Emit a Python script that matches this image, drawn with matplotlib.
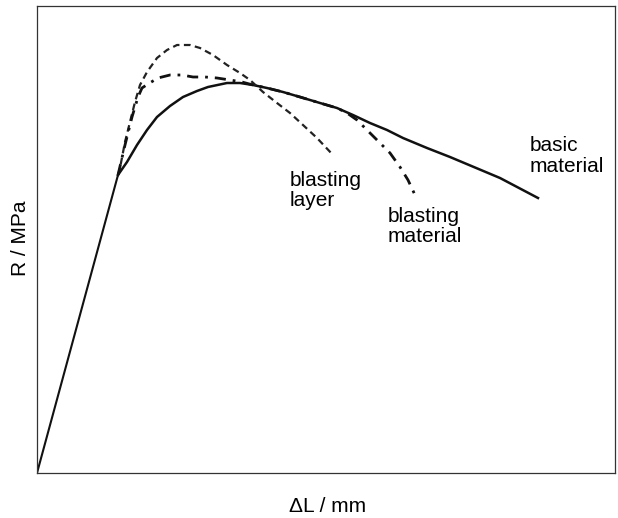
import matplotlib.pyplot as plt

# elastic part (shared by all three curves)
elast_x = [0, 81]
elast_y = [0, 298]

# basic material (solid)
basic_x = [81, 90, 100, 110, 120, 133, 146, 160, 171, 190, 203, 216, 230, 246, 263,
           283, 300, 316, 333, 350, 366, 390, 413, 463, 501]
basic_y = [298, 311, 328, 343, 356, 367, 376, 382, 386, 390, 390, 388, 385, 381, 376,
           370, 365, 358, 350, 343, 335, 325, 316, 295, 275]

# blasting layer (dashed)
blay_x = [81, 83, 88, 93, 98, 103, 110, 120, 130, 140, 153, 163, 176, 190, 203, 213,
          226, 240, 253, 266, 280, 296]
blay_y = [298, 305, 331, 351, 371, 388, 401, 415, 423, 428, 428, 425, 418, 408, 400, 393,
          381, 370, 360, 348, 335, 318]

# blasting material (dash-dot)
bmat_x = [81, 88, 95, 101, 105, 111, 121, 133, 145, 156, 168, 180, 193, 205, 216, 230,
          246, 263, 283, 300, 310, 320, 330, 343, 353, 363, 371, 378]
bmat_y = [298, 328, 356, 376, 385, 389, 395, 398, 398, 396, 396, 395, 393, 391, 388, 385,
          381, 376, 370, 365, 360, 353, 343, 330, 320, 306, 293, 278]

plt.rcParams['font.family'] = ['Liberation Sans', 'DejaVu Sans']
fig = plt.figure(figsize=(6.18, 5.18), dpi=100)
ax = fig.add_axes([37/618, 45/518, 578/618, 467/518])

ax.plot(elast_x, elast_y, color='#111111', lw=1.5)
ax.plot(basic_x, basic_y, color='#111111', lw=1.8, ls='-')
ax.plot(blay_x, blay_y, color='#222222', lw=1.6, ls=(0, (3, 2)))
ax.plot(bmat_x, bmat_y, color='#111111', lw=2.0, ls=(0, (4, 2.5, 1, 2.5)))

ax.text(253, 302, 'blasting\nlayer', fontsize=15, va='top', ha='left', linespacing=1.1)
ax.text(351, 266, 'blasting\nmaterial', fontsize=15, va='top', ha='left', linespacing=1.1)
ax.text(493, 337, 'basic\nmaterial', fontsize=15, va='top', ha='left', linespacing=1.1)

ax.set_xlim(0, 578)
ax.set_ylim(0, 467)
ax.set_xticks([])
ax.set_yticks([])
for s in ax.spines.values():
    s.set_linewidth(0.9)
    s.set_color('#333333')

fig.text(328/618, 1 - 507/518, '\u0394L / mm', fontsize=15, ha='center', va='center')
fig.text(21/618, 1 - 238/518, 'R / MPa', fontsize=15, ha='center', va='center', rotation=90)

plt.savefig('out.png', dpi=100)
